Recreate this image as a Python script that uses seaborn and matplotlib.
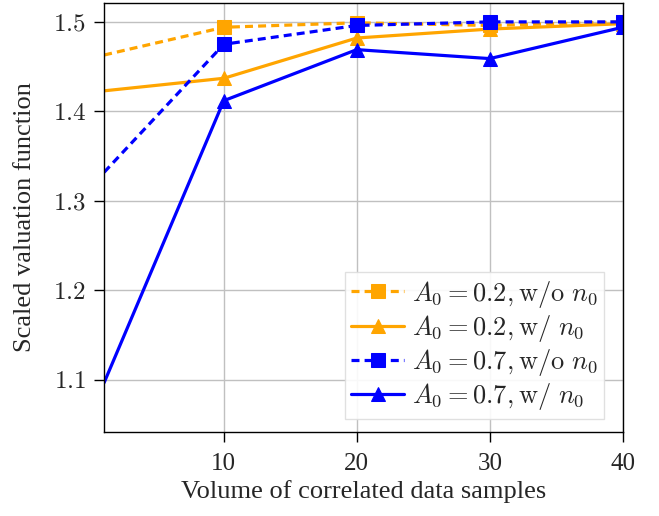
import numpy as np
import pandas as pd
import matplotlib
matplotlib.use("Agg")
import matplotlib.pyplot as plt
import seaborn as sns

# data
samples = [1, 10, 20, 30, 40]
a02_wo = [1.463, 1.494, 1.499, 1.496, 1.500]
a02_w = [1.423, 1.437, 1.482, 1.492, 1.498]
a07_wo = [1.332, 1.475, 1.496, 1.500, 1.500]
a07_w = [1.097, 1.412, 1.469, 1.459, 1.494]
labels = [r"$A_0 = 0.2, \mathrm{w/o}\ n_0$", r"$A_0 = 0.2, \mathrm{w/}\ n_0$",
          r"$A_0 = 0.7, \mathrm{w/o}\ n_0$", r"$A_0 = 0.7, \mathrm{w/}\ n_0$"]

sns.set_style("whitegrid")
plt.rcParams["font.family"] = ["Liberation Serif", "DejaVu Serif"]
plt.rcParams["mathtext.fontset"] = "cm"

fig = plt.figure(figsize=(6.59, 5.16), dpi=100)
ax = fig.add_axes([0.158, 0.163, 0.787, 0.831])

series = [(a02_wo, "orange", "s", (2.5, 1.6)),
          (a02_w, "orange", "^", ""),
          (a07_wo, "blue", "s", (2.5, 1.6)),
          (a07_w, "blue", "^", "")]

for (vals, col, mk, dash), lab in zip(series, labels):
    df = pd.DataFrame({"x": samples, "y": vals})
    kw = {}
    if dash:
        kw["dashes"] = dash
    sns.lineplot(data=df, x="x", y="y", ax=ax, color=col, marker=mk, markersize=10,
                 markeredgecolor=col, linewidth=2.3, markevery=[1, 2, 3, 4],
                 label=lab, **kw)

ax.set_xlim(1, 40)
ax.set_ylim(1.042, 1.521)
ax.set_xticks([10, 20, 30, 40])
ax.set_yticks([1.1, 1.2, 1.3, 1.4, 1.5])
ax.set_yticklabels([r"$%.1f$" % v for v in [1.1, 1.2, 1.3, 1.4, 1.5]])
ax.tick_params(axis="both", labelsize=18, length=7, width=1, direction="out",
               color="black", left=True, bottom=True)
ax.tick_params(axis="x", pad=8)
ax.tick_params(axis="y", pad=6)
ax.grid(True, color="#c0c0c0", linewidth=1)
for s in ax.spines.values():
    s.set_color("black")
    s.set_linewidth(1)

ax.set_xlabel("Volume of correlated data samples", fontsize=19)
ax.set_ylabel("Scaled valuation function", fontsize=19, labelpad=12)

leg = ax.legend(loc="lower right", fontsize=19, handlelength=2.0, borderpad=0.25,
                labelspacing=0.12, handletextpad=0.3, frameon=True, fancybox=False,
                bbox_to_anchor=(0.99, 0.0))
leg.get_frame().set_edgecolor("#dddddd")
leg.get_frame().set_alpha(0.9)

fig.savefig("out.png", dpi=100)
